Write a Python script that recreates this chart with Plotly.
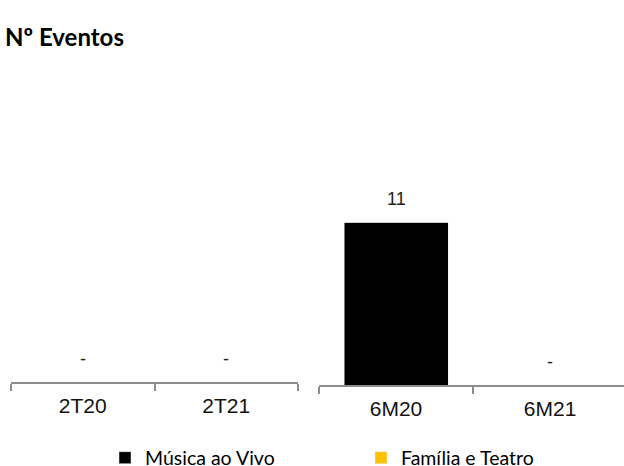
import plotly.graph_objects as go

# Category groups (two separate panels)
periods_q = ["2T20", "2T21"]
periods_h = ["6M20", "6M21"]

# Number of events per series
musica_q = [0, 0]
musica_h = [11, 0]
familia_q = [0, 0]
familia_h = [0, 0]

series_names = ["Música ao Vivo", "Família e Teatro"]
series_colors = ["#000000", "#FFC000"]

W, H = 624, 466
Y_MAX = 19.2

fig = go.Figure()

panels = [
    ("x", "y", periods_q, musica_q, familia_q),
    ("x2", "y2", periods_h, musica_h, familia_h),
]

for i, (xa, ya, cats, mus, fam) in enumerate(panels):
    for name, color, vals in zip(series_names, series_colors, [mus, fam]):
        fig.add_trace(go.Bar(
            x=cats, y=vals, name=name, marker_color=color,
            xaxis=xa, yaxis=ya, showlegend=(i == 0),
            legendgroup=name, hoverinfo="skip",
        ))
    # value labels above each stack ("-" for zero)
    for c, m, f in zip(cats, mus, fam):
        total = m + f
        fig.add_annotation(
            x=c, y=total, xref=xa, yref=ya,
            text=str(total) if total else "-",
            showarrow=False, yshift=23,
            font=dict(family="Arial, Liberation Sans", size=18, color="#222222"),
        )

axis_line = "#8C8C8C"
common_x = dict(
    type="category", showline=True, linecolor=axis_line, linewidth=1.5,
    ticks="outside", tickson="boundaries", ticklen=7, tickcolor=axis_line,
    tickwidth=1.5, showgrid=False, zeroline=False, ticklabelstandoff=4,
    tickfont=dict(family="Arial, Liberation Sans", size=21, color="#111111"),
)
common_y = dict(visible=False, range=[0, Y_MAX], showgrid=False, zeroline=False)

fig.update_layout(
    width=W, height=H,
    margin=dict(l=0, r=0, t=0, b=0, autoexpand=False),
    paper_bgcolor="white", plot_bgcolor="white",
    barmode="stack", bargap=0.325,
    xaxis=dict(domain=[11 / W, 298 / W], anchor="y", range=[-0.5, 1.5], **common_x),
    yaxis=dict(domain=[(H - 382) / H, (H - 382 + 163 * Y_MAX / 11) / H], anchor="x", **common_y),
    xaxis2=dict(domain=[319 / W, 1.0], anchor="y2", range=[-0.5, 1.48], **common_x),
    yaxis2=dict(domain=[(H - 385) / H, (H - 385 + 163 * Y_MAX / 11) / H], anchor="x2", **common_y),
    title=dict(
        text="<b>Nº Eventos</b>", x=5 / W, xanchor="left", xref="paper",
        y=1 - 38 / H, yanchor="middle", yref="paper",
        font=dict(family="Lato, Carlito, Calibri", size=24, color="#000000"),
    ),
    legend=dict(
        orientation="h", x=105 / W, xanchor="left", y=1 - 458 / H, yanchor="middle",
        entrywidth=211, entrywidthmode="pixels",
        font=dict(family="Lato, Carlito, Calibri", size=19.5, color="#000000"),
        traceorder="normal", itemclick=False, itemdoubleclick=False,
    ),
)

fig.write_html("out.html")
